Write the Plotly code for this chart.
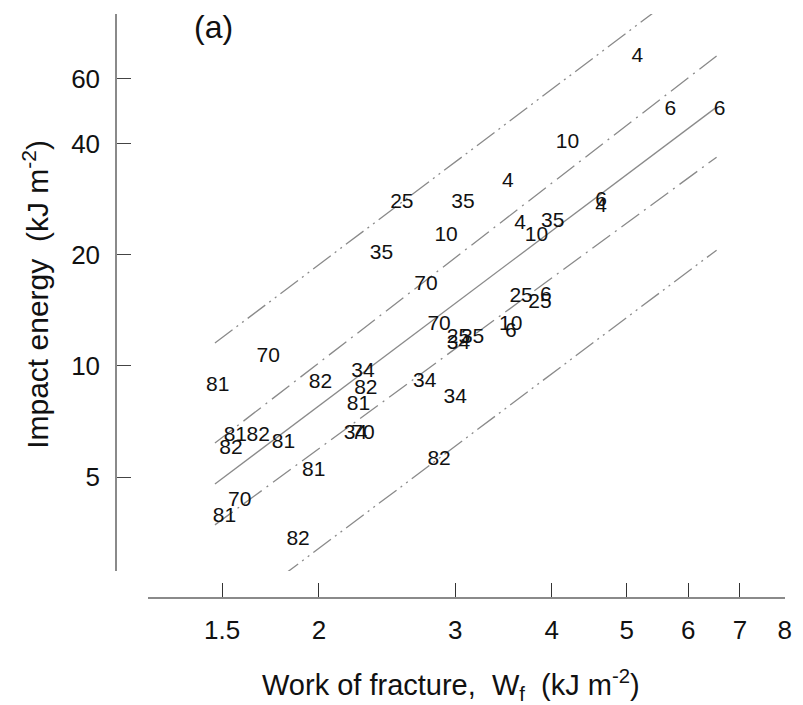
import plotly.graph_objects as go

# Specimen labels with work of fracture (kJ m^-2) and impact energy (kJ m^-2)
labels = ["4", "6", "6", "10", "4", "6", "4", "25", "35", "10", "4", "35", "10",
          "35", "70", "25", "6", "25", "10", "6", "70", "25", "34", "35",
          "34", "82", "82", "34", "34", "81", "70", "81", "81", "82", "82",
          "81", "34", "70", "81", "82", "70", "81", "82"]
work_fracture = [5.16, 5.69, 6.59, 4.19, 3.51, 4.63, 4.63, 2.56, 3.07, 2.92, 3.64, 4.01, 3.82,
                 2.41, 2.75, 3.65, 3.93, 3.86, 3.54, 3.54, 2.86, 3.03, 3.03, 3.16,
                 2.28, 2.01, 2.30, 2.74, 3.00, 1.48, 1.72, 2.25, 1.56, 1.67, 1.54,
                 1.80, 2.23, 2.28, 1.97, 2.86, 1.58, 1.51, 1.88]
impact_energy = [68.8, 49.4, 49.4, 40.2, 31.5, 28.0, 27.0, 27.7, 27.7, 22.5, 24.3, 24.6, 22.5,
                 20.1, 16.6, 15.4, 15.5, 14.8, 12.9, 12.4, 12.9, 11.9, 11.5, 11.9,
                 9.63, 8.99, 8.66, 9.05, 8.19, 8.83, 10.6, 7.84, 6.46, 6.46, 5.96,
                 6.18, 6.54, 6.54, 5.19, 5.56, 4.31, 3.90, 3.38]

# Regression line and bands (end points)
fit_x = [1.468, 6.53]
fit_y = [4.79, 50.3]
inner_upper_y = [6.18, 69.2]
inner_lower_y = [3.71, 36.8]
outer_upper_y = [11.54, 122.0]
outer_lower_y = [1.97, 20.6]

x_ticks = [1.5, 2, 3, 4, 5, 6, 7, 8]
x_ticktext = ["1.5", "2", "3", "4", "5", "6", "7", "8"]
y_ticks = [5, 10, 20, 40, 60]
y_ticktext = ["5", "10", "20", "40", "60"]

FONT = "Liberation Sans, Arial, Helvetica, sans-serif"
LINE_COL = "#8a8a8a"
INNER_DASH = "22px,6px,2px,6px"
OUTER_DASH = "22px,5px,2px,5px,2px,5px"

fig = go.Figure()

for ys, dash in [(outer_upper_y, OUTER_DASH), (inner_upper_y, INNER_DASH),
                 (inner_lower_y, INNER_DASH), (outer_lower_y, OUTER_DASH)]:
    fig.add_trace(go.Scatter(x=fit_x, y=ys, mode="lines",
                             line=dict(color=LINE_COL, width=1.3, dash=dash),
                             hoverinfo="skip", showlegend=False))

fig.add_trace(go.Scatter(x=fit_x, y=fit_y, mode="lines",
                         line=dict(color=LINE_COL, width=1.3),
                         hoverinfo="skip", showlegend=False))

fig.add_trace(go.Scatter(x=work_fracture, y=impact_energy, mode="text",
                         text=labels, textposition="middle center",
                         textfont=dict(family=FONT, size=21, color="#111"),
                         cliponaxis=False, showlegend=False))

W, H = 803, 705
ml, mr, mt, mb = 116, 11, 14, 107
pw, ph = W - ml - mr, H - mt - mb

fig.update_layout(
    width=W, height=H,
    margin=dict(l=ml, r=mr, t=mt, b=mb),
    paper_bgcolor="white", plot_bgcolor="white",
    font=dict(family=FONT, color="#111"),
    xaxis=dict(
        type="log", range=[0.0798, 0.9033],
        domain=[(148 - ml) / pw, 1], anchor="free", position=0,
        showline=True, linecolor=LINE_COL, linewidth=1.5,
        ticks="inside", ticklen=14, tickwidth=1.2, tickcolor="#333",
        tickvals=x_ticks, ticktext=x_ticktext,
        tickfont=dict(family=FONT, size=26, color="#111"),
        ticklabelstandoff=9,
        showgrid=False, zeroline=False,
    ),
    yaxis=dict(
        type="log", range=[0.4444, 1.9539],
        domain=[27 / ph, 1], anchor="free", position=0,
        showline=True, linecolor=LINE_COL, linewidth=1.5,
        ticks="inside", ticklen=14, tickwidth=1.2, tickcolor="#444",
        tickvals=y_ticks, ticktext=y_ticktext,
        tickfont=dict(family=FONT, size=26, color="#111"),
        ticklabelstandoff=10,
        showgrid=False, zeroline=False,
    ),
    annotations=[
        dict(text="Work of fracture,&nbsp; W<sub>f</sub>&nbsp; (kJ m<sup>-2</sup>)",
             x=455, y=H - 685, xref="paper", yref="paper",
             xanchor="center", yanchor="middle",
             showarrow=False, font=dict(family=FONT, size=29, color="#111")),
        dict(text="(a)", x=215, y=H - 27, xref="paper", yref="paper",
             xanchor="center", yanchor="middle",
             showarrow=False, font=dict(family=FONT, size=32, color="#111")),
        dict(text="Impact energy&nbsp; (kJ m<sup>-2</sup>)", textangle=-90,
             x=35, y=H - 294, xref="paper", yref="paper",
             xanchor="center", yanchor="middle",
             showarrow=False, font=dict(family=FONT, size=30, color="#111")),
    ],
)

# annotation positions above are given in pixels; convert to paper fractions
for ann in fig.layout.annotations:
    ann.x = (ann.x - ml) / pw
    ann.y = (ann.y - mb) / ph

fig.write_html("out.html")
